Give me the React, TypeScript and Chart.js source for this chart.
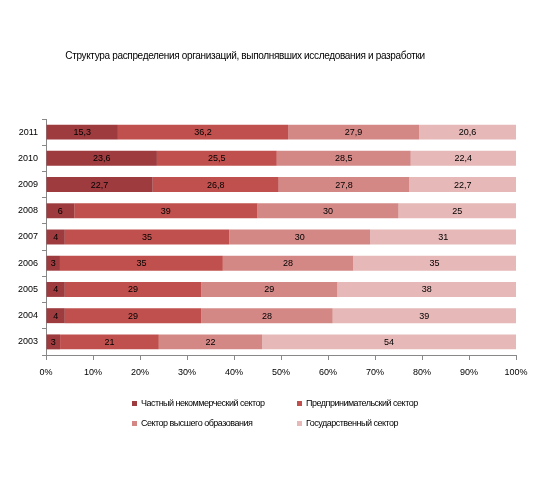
import React, { useEffect, useRef } from "react";
import { Chart, registerables } from "chart.js";

Chart.register(...registerables);

const years = ["2011", "2010", "2009", "2008", "2007", "2006", "2005", "2004", "2003"];
const privateNonprofit = [15.3, 23.6, 22.7, 6, 4, 3, 4, 4, 3];
const business = [36.2, 25.5, 26.8, 39, 35, 35, 29, 29, 21];
const higherEducation = [27.9, 28.5, 27.8, 30, 30, 28, 29, 28, 22];
const government = [20.6, 22.4, 22.7, 25, 31, 35, 38, 39, 54];
const seriesNames = [
  "Частный некоммерческий сектор",
  "Предпринимательский сектор",
  "Сектор высшего образования",
  "Государственный сектор",
];
const seriesColors = ["#9e3b3e", "#c0504d", "#d38886", "#e6b8b7"];
const xTicks = [0, 10, 20, 30, 40, 50, 60, 70, 80, 90, 100];
const title = "Структура распределения организаций, выполнявших исследования и разработки";

const FONT = "'Liberation Sans', Arial, sans-serif";

export default function App() {
  const ref = useRef<HTMLCanvasElement | null>(null);

  useEffect(() => {
    if (!ref.current) return;
    const raw = [privateNonprofit, business, higherEducation, government];
    const totals = years.map((_, i) => raw.reduce((s, arr) => s + arr[i], 0));
    const labelPlugin = {
      id: "barLabels",
      afterDatasetsDraw(chart: any) {
        const ctx = chart.ctx;
        ctx.save();
        ctx.font = `9px ${FONT}`;
        ctx.fillStyle = "#000";
        ctx.textAlign = "center";
        ctx.textBaseline = "middle";
        chart.data.datasets.forEach((ds: any, di: number) => {
          const meta = chart.getDatasetMeta(di);
          meta.data.forEach((el: any, i: number) => {
            const v = raw[di][i];
            const txt = String(v).replace(".", ",");
            const cx = (el.x + el.base) / 2;
            ctx.fillText(txt, cx, el.y + 0.5);
          });
        });
        ctx.restore();
      },
    };
    const chart = new Chart(ref.current, {
      type: "bar",
      data: {
        labels: years,
        datasets: raw.map((arr, di) => ({
          label: seriesNames[di],
          data: arr.map((v, i) => (v / totals[i]) * 100),
          backgroundColor: seriesColors[di],
          borderWidth: 0,
          barPercentage: 0.57,
          categoryPercentage: 1,
        })),
      },
      options: {
        indexAxis: "y",
        responsive: false,
        animation: false,
        layout: { padding: { left: 0, right: 24, top: 119, bottom: 0 } },
        plugins: {
          legend: { display: false },
          title: { display: false },
          tooltip: { enabled: false },
        },
        scales: {
          x: {
            stacked: true,
            min: 0,
            max: 100,
            afterFit(scale: any) {
              scale.height = 148;
            },
            afterBuildTicks(scale: any) {
              scale.ticks = xTicks.map((v) => ({ value: v }));
            },
            ticks: {
              callback: (v: any) => v + "%",
              font: { family: FONT, size: 9 },
              color: "#000",
              padding: 7,
              maxRotation: 0,
            },
            grid: {
              drawOnChartArea: false,
              drawTicks: true,
              tickLength: 5,
              color: "#888",
            },
            border: { color: "#888", width: 1 },
          },
          y: {
            stacked: true,
            afterFit(scale: any) {
              scale.width = 46;
            },
            ticks: {
              font: { family: FONT, size: 9 },
              color: "#000",
              padding: 4,
            },
            grid: {
              drawOnChartArea: false,
              drawTicks: true,
              tickLength: 4,
              offset: true,
              color: "#888",
            },
            border: { color: "#888", width: 1 },
          },
        },
      },
      plugins: [labelPlugin],
    } as any);
    return () => chart.destroy();
  }, []);

  const legendItems = [
    { x: 132, y: 403, i: 0 },
    { x: 297, y: 403, i: 1 },
    { x: 132, y: 423, i: 2 },
    { x: 297, y: 423, i: 3 },
  ];

  return (
    <div
      style={{
        position: "absolute",
        left: 0,
        top: 0,
        width: 540,
        height: 503,
        background: "#fff",
        fontFamily: FONT,
      }}
    >
      <canvas ref={ref} width={540} height={503} style={{ position: "absolute", left: 0, top: 0 }} />
      <div
        style={{
          position: "absolute",
          left: 0,
          width: 490,
          top: 49,
          textAlign: "center",
          fontSize: 10,
          letterSpacing: "-0.33px",
          lineHeight: "14px",
          color: "#000",
          whiteSpace: "nowrap",
        }}
      >
        {title}
      </div>
      {legendItems.map((it) => (
        <div
          key={it.i}
          style={{
            position: "absolute",
            left: it.x,
            top: it.y - 7,
            height: 14,
            display: "flex",
            alignItems: "center",
            fontSize: 9,
            letterSpacing: "-0.5px",
            color: "#000",
            whiteSpace: "nowrap",
          }}
        >
          <span
            style={{
              display: "inline-block",
              width: 5,
              height: 5,
              background: seriesColors[it.i],
              marginRight: 4,
            }}
          />
          {seriesNames[it.i]}
        </div>
      ))}
    </div>
  );
}
